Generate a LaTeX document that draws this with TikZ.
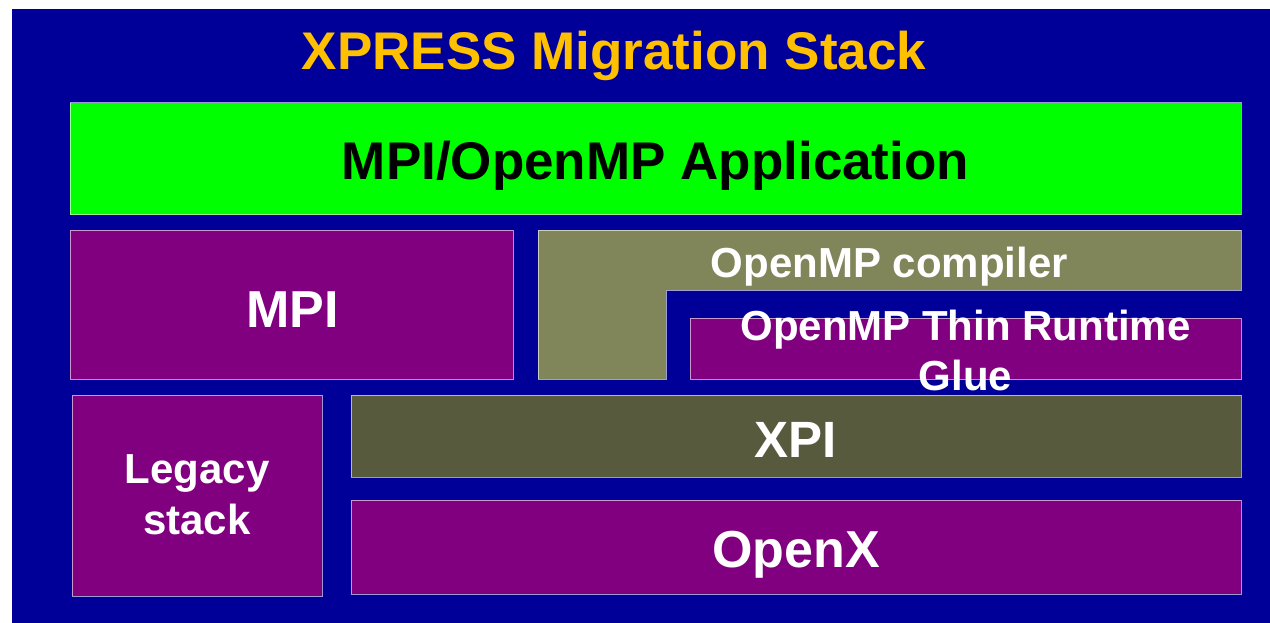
\documentclass[tikz,border=0pt]{standalone}
\usepackage{fontspec}
\setmainfont{Liberation Sans}
\definecolor{bgblue}{RGB}{0,0,153}
\definecolor{appgreen}{RGB}{0,255,0}
\definecolor{layerpurple}{RGB}{128,0,128}
\definecolor{compolive}{RGB}{128,133,90}
\definecolor{xpiolive}{RGB}{88,90,62}
\definecolor{titleorange}{RGB}{255,192,0}
\tikzset{
  layer/.style={draw=white, draw opacity=0.6, line width=1pt},
  lbl/.style={inner sep=0pt, anchor=base, text=white, font=\bfseries\fontsize{#1}{#1}\selectfont},
  lbl/.default=42,
}
\begin{document}
\begin{tikzpicture}[x=1pt,y=-1pt]
\useasboundingbox (0,0) rectangle (1270,623);
% backdrop
\fill[bgblue] (12,9) rectangle (1270,623);

% layers
\filldraw[layer, fill=appgreen] (70,103) rectangle (1241,215);
\filldraw[layer, fill=layerpurple] (70,230) rectangle (513,379);
\filldraw[layer, fill=compolive] (538,230) -- (1241,230) -- (1241,290) -- (666,290) -- (666,379) -- (538,379) -- cycle;
\filldraw[layer, fill=layerpurple] (690,318) rectangle (1241,379);
\filldraw[layer, fill=layerpurple] (72,395) rectangle (322,596);
\filldraw[layer, fill=xpiolive] (351,395) rectangle (1241,477);
\filldraw[layer, fill=layerpurple] (351,500) rectangle (1241,594);

% labels
\node[lbl=53, text=titleorange] (title) at (614,70) {XPRESS Migration Stack};
\node[lbl=53, text=black] (app) at (655.5,180) {MPI/OpenMP Application};
\node[lbl=52] (mpi) at (292.5,327) {MPI};
\node[lbl=42] (compiler) at (889.5,277) {OpenMP compiler};
\node[lbl=42] (thin) at (965.5,340) {OpenMP Thin Runtime};
\node[lbl=42] (glue) at (965.5,390) {Glue};
\node[lbl=42] (legacy) at (197,483) {Legacy};
\node[lbl=42] (stack) at (197,534) {stack};
\node[lbl=51] (xpi) at (796,457) {XPI};
\node[lbl=52] (openx) at (796,567) {OpenX};
\end{tikzpicture}
\end{document}
